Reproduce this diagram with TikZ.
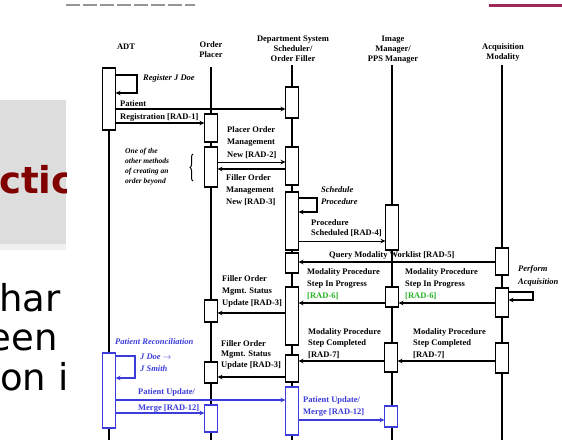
\documentclass[tikz,border=0pt]{standalone}
\usepackage{fontspec}
\setmainfont{Liberation Serif}
\newfontfamily\slidefont{DejaVu Sans}
\usetikzlibrary{arrows.meta,decorations.pathreplacing}
\definecolor{slidegray}{RGB}{221,221,221}
\definecolor{slidered}{RGB}{128,0,0}
\definecolor{slidetop}{RGB}{158,40,92}
\definecolor{headgray}{RGB}{150,150,150}
\definecolor{radgreen}{RGB}{40,180,40}
\definecolor{reconblue}{RGB}{60,60,220}

\tikzset{
  lifeline/.style={line width=2pt},
  abox/.style={draw, fill=white, line width=1.3pt, minimum width=13pt, inner sep=0pt, outer sep=0pt},
  msg/.style={line width=1.5pt, -{Stealth[length=5pt,width=4.5pt]}},
  thinmsg/.style={line width=1pt, -{Stealth[length=5pt,width=4.5pt]}},
  head/.style={font=\fontsize{8.5}{10}\selectfont\bfseries, align=center, anchor=north, inner sep=0pt},
  lbl/.style={font=\fontsize{8.5}{12}\selectfont\bfseries, align=left, anchor=north west, inner sep=0pt},
  ilbl/.style={lbl, font=\fontsize{8.5}{12}\selectfont\bfseries\itshape},
}
% activation box: name, lifeline x, top y, bottom y, colour
\newcommand{\actbox}[5]{\node[abox, draw=#5, minimum height=#4pt-#3pt, anchor=north] (#1) at (#2,#3) {};}

\begin{document}
\begin{tikzpicture}[x=1pt, y=-1pt]
\useasboundingbox (0,0) rectangle (562,440);

% 1. SLIDE BEHIND
\fill[white] (0,0) rectangle (562,440);
\fill[slidegray] (0,100) rectangle (66,244);
\fill[black!6] (0,244) rectangle (66,250);
\draw[headgray, line width=2pt, dash pattern=on 14pt off 3pt] (66,5) -- (195,5);
\draw[slidetop, line width=3pt] (489,5) -- (562,5);
\begin{scope}
  \clip (0,0) rectangle (66,440);
  \node[anchor=base west, inner sep=0pt, text=slidered, font=\slidefont\fontsize{37}{37}\selectfont\bfseries] (slideTitle) at (-1,193) {ctic};
  \node[anchor=base west, inner sep=0pt, font=\slidefont\fontsize{37}{37}\selectfont] (slideLineA) at (-1,311) {har};
  \node[anchor=base east, inner sep=0pt, font=\slidefont\fontsize{37}{37}\selectfont] (slideLineB) at (58,350) {een};
  \node[anchor=base west, inner sep=0pt, font=\slidefont\fontsize{37}{37}\selectfont] (slideLineC) at (0,390) {on i};
\end{scope}

% 2. ACTORS & LIFELINES
\node[head] (hADT) at (126,44) {ADT};
\node[head] (hOP) at (211,41) {Order\\Placer};
\node[head] (hDSS) at (293,36) {Department System\\Scheduler/\\Order Filler};
\node[head] (hIM) at (393,36) {Image\\Manager/\\PPS Manager};
\node[head] (hACQ) at (503,43) {Acquisition\\Modality};
\foreach \nm/\x/\t in {adt/109/68, op/211/67, dss/292/65, im/392/65, acq/502/65}{
  \coordinate (\nm-top) at (\x,\t);
  \coordinate (\nm-bot) at (\x,440);
  \draw[lifeline] (\nm-top) -- (\nm-bot);
}

% 3. ACTIVATION BOXES
\actbox{adtA}{109}{68}{130}{black}
\actbox{opA}{211}{114}{142}{black}
\actbox{opB}{211}{147}{187}{black}
\actbox{opC}{211}{300}{322}{black}
\actbox{opD}{211}{362}{383}{black}
\actbox{dssA}{292}{87}{118}{black}
\actbox{dssB}{292}{147}{185}{black}
\actbox{dssC}{292}{192}{250}{black}
\actbox{dssD}{292}{253}{273}{black}
\actbox{dssE}{292}{287}{345}{black}
\actbox{dssF}{292}{355}{382}{black}
\actbox{imA}{392}{205}{250}{black}
\actbox{imB}{392}{287}{307}{black}
\actbox{imC}{391}{343}{372}{black}
\actbox{acqA}{502}{248}{275}{black}
\actbox{acqB}{502}{288}{317}{black}
\actbox{acqC}{502}{343}{373}{black}
% reconciliation boxes
\actbox{adtB}{109}{353}{428}{reconblue}
\actbox{opE}{211}{405}{432}{reconblue}
\actbox{dssG}{292}{387}{435}{reconblue}
\actbox{imD}{391}{406}{427}{reconblue}

% 4. MESSAGES
\coordinate (regTurn) at (137,93);
\draw[msg] (adtA.east |- 0,75) -| (regTurn) -- (adtA.east |- regTurn);
\draw[msg] (adtA.east |- 0,109) -- (dssA.west |- 0,109);
\draw[msg] (adtA.east |- 0,123) -- (opA.west |- 0,123);
\draw[thinmsg] (opB.east |- 0,162) -- (dssB.west |- 0,162);
\draw[msg] (dssB.west |- 0,169) -- (opB.east |- 0,169);
\coordinate (schedTurn) at (317,212);
\draw[msg] (dssC.east |- 0,198) -| (schedTurn) -- (dssC.east |- schedTurn);
\draw[thinmsg] (dssC.east |- 0,241) -- (imA.west |- 0,241);
\draw[msg] (acqA.west |- 0,262) -- (dssD.east |- 0,262);
\coordinate (acqTurn) at (533,300);
\draw[msg] (acqB.east |- 0,292) -| (acqTurn) -- (acqB.east |- acqTurn);
\draw[msg] (acqB.west |- 0,303) -- (imB.east |- 0,303);
\draw[msg] (imB.west |- 0,303) -- (dssE.east |- 0,303);
\draw[msg] (dssE.west |- 0,313) -- (opC.east |- 0,313);
\draw[msg] (acqC.west |- 0,361) -- (imC.east |- 0,361);
\draw[msg] (imC.west |- 0,361) -- (dssF.east |- 0,361);
\draw[msg] (dssF.west |- 0,377) -- (opD.east |- 0,377);
% patient reconciliation
\coordinate (reconTurn) at (135,378);
\draw[msg, reconblue] (adtB.east |- 0,356) -| (reconTurn) -- (adtB.east |- reconTurn);
\draw[msg, reconblue] (adtB.east |- 0,400) -- (dssG.west |- 0,400);
\draw[msg, reconblue] (adtB.east |- 0,413) -- (opE.west |- 0,413);
\draw[msg, reconblue] (dssG.east |- 0,420) -- (imD.west |- 0,420);

% Brace beside the note
\draw[decorate, decoration={brace, amplitude=3pt}, line width=1pt] (193,181) -- (193,154);

% 5. LABELS
\node[ilbl] (lRegister) at (143,74) {Register J Doe};
\node[lbl, font=\fontsize{8.5}{13}\selectfont\bfseries] (lPatReg) at (120,100) {Patient\\Registration [RAD-1]};
\node[lbl, font=\fontsize{8.5}{12.5}\selectfont\bfseries] (lPlacer) at (227,126) {Placer Order\\Management\\New [RAD-2]};
\node[ilbl, font=\fontsize{7.5}{10}\selectfont\bfseries\itshape] (lNote) at (125,148) {One of the\\other methods\\of creating an\\order beyond};
\node[lbl] (lFiller) at (226,174) {Filler Order\\Management\\New [RAD-3]};
\node[ilbl] (lSched) at (321,186) {Schedule\\Procedure};
\node[lbl, font=\fontsize{8.5}{10.5}\selectfont\bfseries] (lProcSched) at (311,219) {Procedure\\Scheduled [RAD-4]};
\node[lbl] (lQuery) at (329,251) {Query Modality Worklist [RAD-5]};
\node[ilbl, font=\fontsize{8.5}{13}\selectfont\bfseries\itshape] (lPerform) at (518,265) {Perform\\Acquisition};
\node[lbl] (lInProgA) at (307,268) {Modality Procedure\\Step In Progress\\\textcolor{radgreen}{[RAD-6]}};
\node[lbl] (lInProgB) at (405,268) {Modality Procedure\\Step In Progress\\\textcolor{radgreen}{[RAD-6]}};
\node[lbl] (lStatusA) at (222,275) {Filler Order\\Mgmt. Status\\Update [RAD-3]};
\node[lbl, font=\fontsize{8.5}{11.5}\selectfont\bfseries] (lDoneA) at (308,328) {Modality Procedure\\Step Completed\\{[RAD-7]}};
\node[lbl, font=\fontsize{8.5}{11.5}\selectfont\bfseries] (lDoneB) at (413,328) {Modality Procedure\\Step Completed\\{[RAD-7]}};
\node[lbl, font=\fontsize{8.5}{10.5}\selectfont\bfseries] (lStatusB) at (221,340) {Filler Order\\Mgmt. Status\\Update [RAD-3]};
\node[ilbl, text=reconblue] (lRecon) at (115,338) {Patient Reconciliation};
\node[ilbl, text=reconblue] (lRename) at (140,354) {J Doe $\rightarrow$\\J Smith};
\node[lbl, text=reconblue, font=\fontsize{8.5}{16}\selectfont\bfseries] (lMergeA) at (138,388) {Patient Update/\\Merge [RAD-12]};
\node[lbl, text=reconblue] (lMergeB) at (303,396) {Patient Update/\\Merge [RAD-12]};

\end{tikzpicture}
\end{document}
